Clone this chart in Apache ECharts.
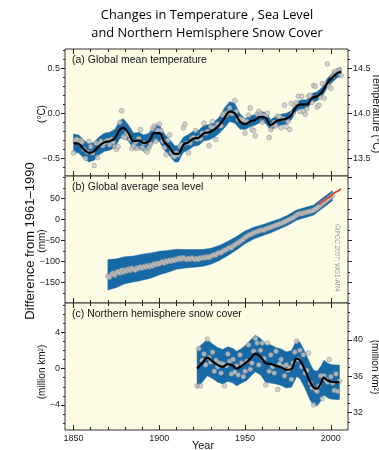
<!DOCTYPE html>
<html><head><meta charset="utf-8">
<script src="https://cdn.jsdelivr.net/npm/echarts@6/dist/echarts.min.js"></script>
<style>html,body{margin:0;padding:0;background:#fff}#c{width:379px;height:450px}</style>
</head><body><div id="c"></div>
<script>
// ---------- DATA ----------
// (a) Global mean temperature anomaly (°C), annual 1850-2006
const tempStartYear = 1850;
const tempAnnual = [
 -0.44,-0.30,-0.29,-0.33,-0.30,-0.32,-0.40,-0.50,-0.43,-0.31,
 -0.37,-0.44,-0.58,-0.33,-0.49,-0.34,-0.31,-0.36,-0.33,-0.31,
 -0.30,-0.35,-0.29,-0.32,-0.37,-0.40,-0.37,-0.10,0.03,-0.26,
 -0.27,-0.22,-0.24,-0.29,-0.39,-0.36,-0.32,-0.39,-0.28,-0.18,
 -0.38,-0.33,-0.41,-0.43,-0.38,-0.34,-0.17,-0.14,-0.31,-0.19,
 -0.12,-0.19,-0.31,-0.38,-0.46,-0.30,-0.24,-0.43,-0.47,-0.48,
 -0.44,-0.46,-0.37,-0.35,-0.16,-0.12,-0.33,-0.44,-0.33,-0.28,
 -0.27,-0.19,-0.29,-0.27,-0.28,-0.22,-0.11,-0.22,-0.20,-0.36,
 -0.15,-0.09,-0.16,-0.29,-0.12,-0.14,-0.14,-0.02,0.00,-0.02,
 0.01,0.06,0.00,0.00,0.14,0.02,-0.07,-0.06,-0.07,-0.07,
 -0.22,-0.09,-0.02,0.06,-0.18,-0.19,-0.25,-0.01,0.02,-0.01,
 -0.10,-0.02,-0.03,0.00,-0.27,-0.18,-0.13,-0.10,-0.14,-0.03,
 -0.04,-0.16,-0.06,0.09,-0.15,-0.09,-0.18,0.11,0.00,0.09,
 0.12,0.19,0.02,0.19,0.02,-0.01,0.05,0.19,0.20,0.12,
 0.31,0.30,0.07,0.09,0.18,0.33,0.17,0.33,0.55,0.30,
 0.28,0.41,0.46,0.47,0.45,0.48,0.42
];
const tempSmoothYears = [1850,1853,1856,1859,1862,1865,1868,1871,1874,1877,1879,
 1882,1885,1888,1891,1894,1897,1900,1903,1906,1909,1911,
 1914,1917,1920,1923,1926,1929,1932,1935,1938,1941,1944,1947,
 1950,1953,1956,1959,1962,1965,1968,1971,1974,
 1977,1980,1983,1986,1989,1992,1995,1998,2001,2004,2006];
const tempSmooth = [-0.33,-0.34,-0.40,-0.44,-0.42,-0.36,-0.32,-0.31,-0.28,-0.18,-0.16,
 -0.22,-0.31,-0.30,-0.33,-0.31,-0.22,-0.22,-0.32,-0.38,-0.45,-0.45,
 -0.35,-0.32,-0.28,-0.27,-0.22,-0.21,-0.18,-0.13,-0.05,0.02,0.00,-0.09,
 -0.12,-0.09,-0.07,-0.04,-0.05,-0.13,-0.09,-0.07,-0.06,
 -0.02,0.08,0.10,0.10,0.17,0.19,0.24,0.34,0.40,0.45,0.46];
const tempHalfWidth = [0.10,0.10,0.10,0.10,0.10,0.10,0.10,0.10,0.10,0.10,0.10,
 0.09,0.09,0.09,0.09,0.09,0.09,0.09,0.09,0.09,0.09,0.09,
 0.085,0.085,0.085,0.085,0.085,0.085,0.085,0.09,0.11,0.11,0.11,0.085,
 0.06,0.06,0.06,0.06,0.06,0.06,0.06,0.06,0.06,
 0.05,0.05,0.05,0.05,0.05,0.05,0.05,0.05,0.05,0.05,0.05];

// (b) Global average sea level (mm), annual 1870-2001
const seaStartYear = 1870;
const seaAnnual = [
 -135,-138,-131,-128,-133,-127,-124,-128,-121,-126,
 -120,-123,-118,-122,-116,-119,-121,-115,-117,-113,
 -116,-112,-114,-110,-113,-109,-111,-106,-108,-104,
 -106,-103,-101,-104,-99,-101,-97,-100,-96,-98,
 -94,-96,-92,-95,-91,-94,-96,-93,-95,-92,
 -94,-96,-93,-95,-91,-93,-90,-92,-89,-91,
 -88,-86,-84,-85,-81,-79,-80,-76,-74,-72,
 -70,-67,-68,-63,-61,-58,-56,-53,-50,-47,
 -43,-41,-38,-36,-35,-32,-31,-29,-28,-26,
 -25,-26,-23,-22,-20,-19,-17,-16,-14,-13,
 -11,-10,-8,-6,-4,-2,0,2,4,7,
 10,12,14,13,15,16,17,18,19,20,
 22,24,27,30,34,38,41,44,47,50,
 53,57
];
const seaSmoothYears = [1870,1875,1880,1885,1890,1895,1900,1905,1910,1915,1920,1925,1930,1935,
 1940,1945,1950,1955,1960,1965,1970,1975,1980,1985,1990,1995,2000,2001];
const seaSmooth = [-132,-128,-121,-118,-114,-110,-104,-100,-95,-94,-93,-92,-88,-80,
 -69,-57,-43,-33,-26,-19,-11,-2,10,16,22,38,53,56];
const seaHalfWidth = [36,34,32,31,31,30,28,26,24,22,21,20,19,18,
 17,16,15,14,13,13,12,12,12,12,12,12,12,12];
const seaSatYears = [1993,1994,1995,1996,1997,1998,1999,2000,2001,2002,2003,2004,2005,2006];
const seaSat = [36,38,42,44,47,50,52,55,59,63,65,67,70,72];

// (c) Northern hemisphere snow cover anomaly (million km²), annual 1922-2005
const snowStartYear = 1922;
const snowAnnual = [
 -1.9,2.2,-1.9,0.9,1.6,0.4,3.2,1.2,
 0.7,1.8,-0.3,0.9,0.2,0.6,-0.5,0.5,-1.9,0.3,
 1.6,0.8,-0.6,1.0,-0.4,0.3,-0.7,1.5,0.6,-0.9,
 -0.3,0.8,2.6,-0.1,0.6,1.9,3.3,2.8,0.4,2.0,
 2.8,1.1,-1.8,2.8,-0.3,1.5,0.2,-0.5,1.9,-2.3,
 0.5,1.0,0.2,-0.8,0.4,-0.2,0.1,-1.2,0.6,1.8,
 3.0,1.0,2.0,0.2,1.5,-0.5,-0.2,1.7,-1.6,-2.1,
 -4.0,-2.3,-2.5,-1.9,-0.8,-3.3,-0.8,-1.2,-1.5,1.0,
 -0.9,-1.6,-2.4,-0.6,-2.5,-1.4
];
const snowSmoothYears = [1922,1925,1928,1931,1934,1937,1940,1943,1945,1948,1951,1954,1956,1959,
 1962,1965,1968,1971,1974,1977,1980,1982,1985,1988,1990,1992,1994,1996,1998,2000,2003,2005];
const snowSmooth = [0.0,0.6,1.2,0.8,0.4,0.2,0.5,0.3,0.0,0.3,0.7,1.3,1.65,1.3,
 0.6,0.5,0.3,0.15,-0.15,-0.05,1.1,0.9,-0.2,-1.5,-2.1,-2.2,-1.7,-1.0,-1.3,-1.45,-1.5,-1.5];
const snowHalfWidth = [2.2,2.1,2.0,1.9,1.9,1.9,1.9,1.9,1.9,1.9,2.0,2.0,2.0,2.0,
 2.1,2.1,2.0,2.0,2.0,2.0,2.0,2.0,2.0,2.0,1.9,1.9,1.9,1.9,1.9,1.9,1.9,1.9];

// Tick labels
const xTickLabels = [1850, 1900, 1950, 2000];
const tempTickLabels = [-0.5, 0.0, 0.5];
const tempRightTickLabels = [13.5, 14.0, 14.5];
const seaTickLabels = [-150, -100, -50, 0, 50];
const snowTickLabels = [-4, 0, 4];
const snowRightTickLabels = [32, 36, 40];

// ---------- CHART ----------
const BLUE = '#176aa5', BG = '#fdfde6', INK = '#222';
const FONT = 'Liberation Sans, Arial, sans-serif';
function steps(a, b, s) { const o = []; for (let v = a; v <= b + 1e-9; v += s) o.push(Math.round(v * 1000) / 1000); return o; }
const minus = s => String(s).replace('-', '\u2212');

const X_MIN = 1845, X_MAX = 2010;
const xMinor = steps(1850, 2000, 10);

const panels = [
  { top: 49, yMin: -0.696, yMax: 0.715,
    lMajor: tempTickLabels, lMinor: steps(-0.6, 0.7, 0.1), lLabels: tempTickLabels, lFmt: v => minus(v.toFixed(1)),
    rOff: 14, rMajor: tempRightTickLabels, rMinor: steps(13.4, 14.7, 0.1), rLabels: tempRightTickLabels, rFmt: v => v.toFixed(1) },
  { top: 176, yMin: -199, yMax: 103,
    lMajor: seaTickLabels, lMinor: steps(-175, 100, 25), lLabels: seaTickLabels, lFmt: v => minus(Math.round(v)),
    rOff: 0, rMajor: steps(-150, 100, 50), rMinor: steps(-175, 100, 25), rLabels: null, rFmt: v => v },
  { top: 303, yMin: -6.75, yMax: 7.2,
    lMajor: snowTickLabels, lMinor: steps(-6, 7, 1), lLabels: snowTickLabels, lFmt: v => minus(Math.round(v)),
    rOff: 36.85, rMajor: snowRightTickLabels, rMinor: steps(31, 44, 1), rLabels: snowRightTickLabels, rFmt: v => String(Math.round(v)) }
];

const grid = [], xAxis = [], yAxis = [], baseX = [], baseY = [];
panels.forEach((p, gi) => {
  grid.push({ left: 65, right: 31, top: p.top, height: 127, show: true, backgroundColor: BG, borderColor: '#333', borderWidth: 1 });
  const mkX = (pos, ticks, len, labels) => ({
    type: 'value', gridIndex: gi, position: pos, min: X_MIN, max: X_MAX,
    axisLine: { show: false, onZero: false }, splitLine: { show: false },
    axisTick: { show: true, inside: true, length: len, customValues: ticks, lineStyle: { color: INK, width: 1 } },
    axisLabel: labels ? { show: true, customValues: labels, formatter: v => String(v), color: INK, fontSize: 9, fontFamily: FONT, margin: 4 } : { show: false }
  });
  baseX[gi] = xAxis.length;
  xAxis.push(mkX('bottom', xTickLabels, 5, gi === 2 ? xTickLabels : null));
  xAxis.push(mkX('bottom', xMinor, 3));
  xAxis.push(mkX('top', xTickLabels, 5));
  xAxis.push(mkX('top', xMinor, 3));
  const mkY = (pos, off, ticks, len, labels, fmt) => ({
    type: 'value', gridIndex: gi, position: pos, min: p.yMin + off, max: p.yMax + off,
    axisLine: { show: false, onZero: false }, splitLine: { show: false },
    axisTick: { show: true, inside: false, length: len, customValues: ticks, lineStyle: { color: INK, width: 1 } },
    axisLabel: labels ? { show: true, customValues: labels, formatter: fmt, color: INK, fontSize: 9, fontFamily: FONT, margin: 5 } : { show: false }
  });
  baseY[gi] = yAxis.length;
  yAxis.push(mkY('left', 0, p.lMajor, 4, p.lLabels, p.lFmt));
  yAxis.push(mkY('left', 0, p.lMinor, 2));
  yAxis.push(mkY('right', p.rOff, p.rMajor, 4, p.rLabels, p.rFmt));
  yAxis.push(mkY('right', p.rOff, p.rMinor, 2));
});

function bandData(years, mid, hw) { return years.map((y, i) => [y, mid[i] - hw[i], mid[i] + hw[i]]); }
function annual(start, vals) { return vals.map((v, i) => [start + i, v]); }
function zip(xs, ys) { return xs.map((x, i) => [x, ys[i]]); }

function bandRender(params, api) {
  if (params.dataIndexInside !== 0) return;
  const n = params.dataInsideLength, up = [], dn = [];
  for (let i = 0; i < n; i++) {
    up.push(api.coord([api.value(0, i), api.value(2, i)]));
    dn.push(api.coord([api.value(0, i), api.value(1, i)]));
  }
  return { type: 'polygon', shape: { points: up.concat(dn.reverse()) }, style: { fill: BLUE, stroke: BLUE, lineWidth: 0.5 } };
}

const series = [];
function addPanel(gi, band, dots, line, dotsOnTop) {
  series.push({ type: 'custom', xAxisIndex: baseX[gi], yAxisIndex: baseY[gi], dimensions: ['x', 'lo', 'hi'],
    encode: { x: 0, y: [1, 2] }, data: band, renderItem: bandRender, silent: true, z: 1 });
  series.push({ type: 'scatter', xAxisIndex: baseX[gi], yAxisIndex: baseY[gi], data: dots, symbolSize: 4.8,
    itemStyle: { color: '#c9c9c9', borderColor: '#858585', borderWidth: 0.6 }, silent: true, z: dotsOnTop ? 4 : 2 });
  series.push({ type: 'line', xAxisIndex: baseX[gi], yAxisIndex: baseY[gi], data: line, smooth: 0.35, showSymbol: false,
    lineStyle: { color: '#000', width: 2.2 }, silent: true, z: 3 });
}
addPanel(0, bandData(tempSmoothYears, tempSmooth, tempHalfWidth), annual(tempStartYear, tempAnnual), zip(tempSmoothYears, tempSmooth), false);
addPanel(1, bandData(seaSmoothYears, seaSmooth, seaHalfWidth), annual(seaStartYear, seaAnnual), zip(seaSmoothYears, seaSmooth), true);
addPanel(2, bandData(snowSmoothYears, snowSmooth, snowHalfWidth), annual(snowStartYear, snowAnnual), zip(snowSmoothYears, snowSmooth), false);
series.push({ type: 'line', xAxisIndex: baseX[1], yAxisIndex: baseY[1], data: zip(seaSatYears, seaSat), smooth: 0.3, showSymbol: false,
  lineStyle: { color: '#e8332a', width: 1.6 }, silent: true, z: 5 });

const txt = (x, y, text, size, opts = {}) => ({
  type: 'text', x, y, rotation: opts.rot || 0, silent: true,
  style: { text, fill: opts.color || '#111', font: (opts.weight || 'normal') + ' ' + size + 'px ' + (opts.family || FONT),
    align: opts.align || 'center', verticalAlign: 'middle' }
});

const graphic = [
  txt(207, 15, 'Changes in Temperature , Sea Level', 12.8, { family: 'Open Sans, sans-serif', color: '#000' }),
  txt(207, 33, 'and Northern Hemisphere Snow Cover', 12.8, { family: 'Open Sans, sans-serif', color: '#000' }),
  txt(72, 60, '(a) Global mean temperature', 10.5, { align: 'left' }),
  txt(72, 187, '(b) Global average sea level', 10.5, { align: 'left' }),
  txt(72, 314, '(c) Northern hemisphere snow cover', 10.5, { align: 'left' }),
  txt(30, 241, 'Difference from 1961\u20131990', 13, { rot: Math.PI / 2 }),
  txt(42, 114, '(\u00b0C)', 10, { rot: Math.PI / 2 }),
  txt(42, 241, '(mm)', 10, { rot: Math.PI / 2 }),
  txt(42, 372, '(million km\u00b2)', 10, { rot: Math.PI / 2 }),
  txt(376, 113, 'Temperature (\u00b0C)', 10.5, { rot: -Math.PI / 2 }),
  txt(375, 367, '(million km\u00b2)', 10, { rot: -Math.PI / 2 }),
  txt(337, 258, '\u00a9IPCC 2007: WG1-AR4', 6.3, { rot: -Math.PI / 2, color: '#999' }),
  txt(203, 446, 'Year', 11)
];

const chart = echarts.init(document.getElementById('c'), null, { renderer: 'canvas' });
chart.setOption({ animation: false, backgroundColor: '#fff', grid, xAxis, yAxis, series, graphic });
</script>
</body></html>
